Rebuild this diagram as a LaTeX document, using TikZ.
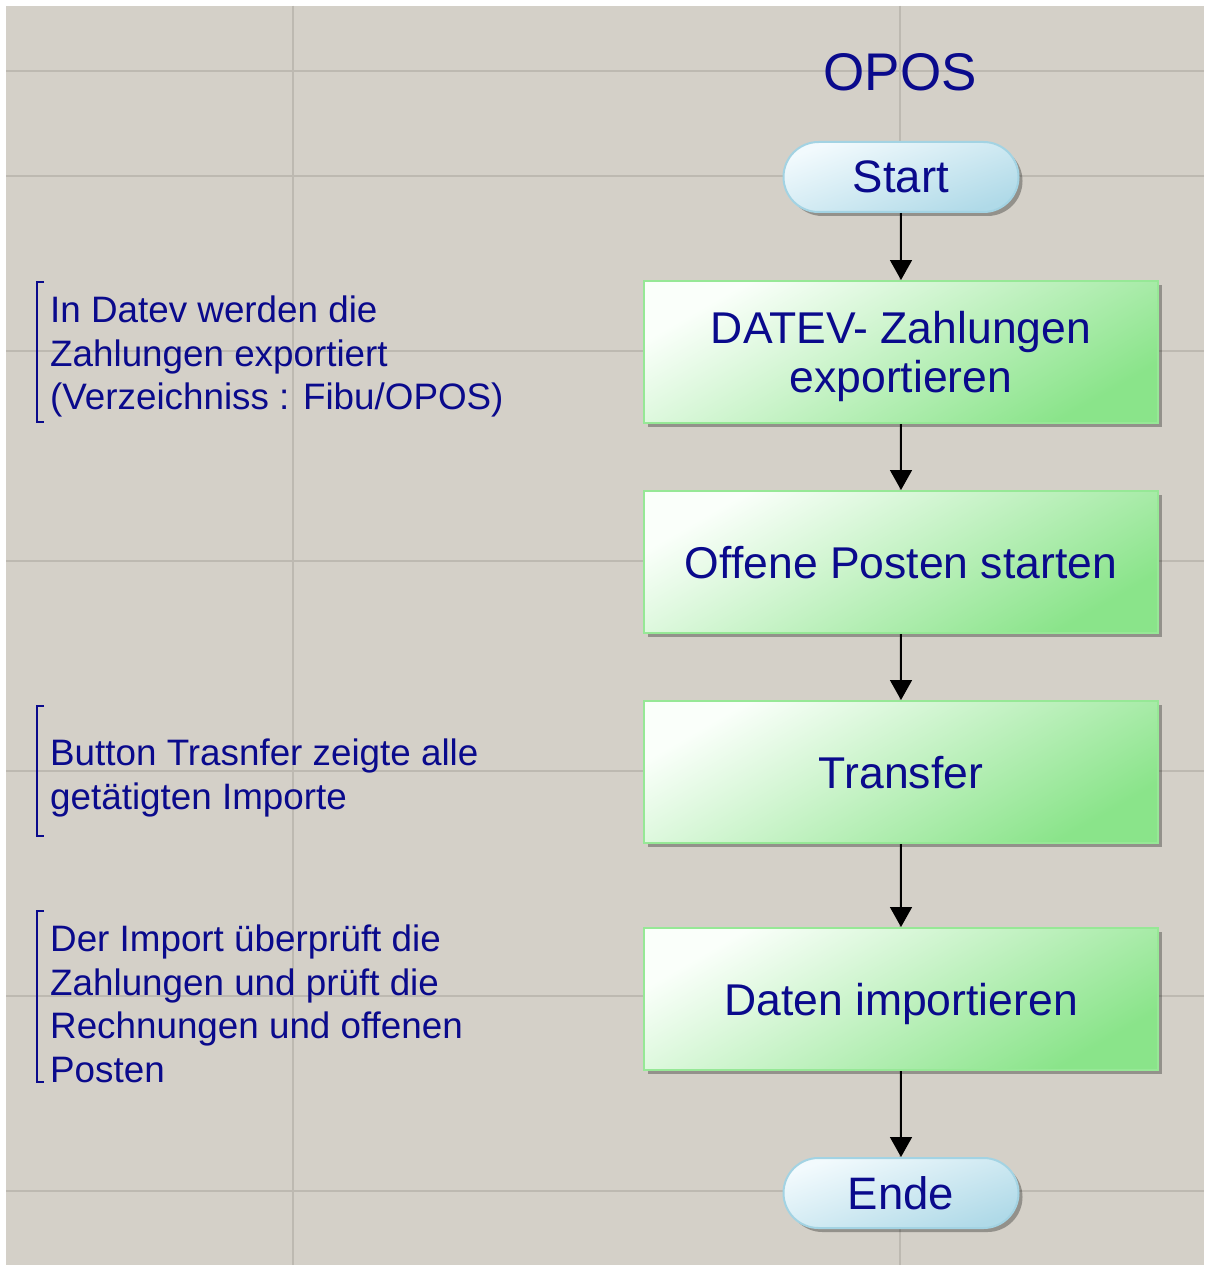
\documentclass[tikz,border=0pt]{standalone}
\usepackage{fontspec}
\setmainfont{Liberation Sans}
\usetikzlibrary{arrows.meta,shadows}
\definecolor{bg}{HTML}{D4D0C8}
\definecolor{gridc}{HTML}{BDB9B1}
\definecolor{navy}{HTML}{0A0A8C}
\definecolor{gtop}{HTML}{FAFFFA}
\definecolor{gbot}{HTML}{8AE48A}
\definecolor{gborder}{HTML}{96E896}
\definecolor{btop}{HTML}{F2FAFD}
\definecolor{bbot}{HTML}{B0DAE8}
\definecolor{bborder}{HTML}{A3D3E3}
\tikzset{
  procbox/.style={rectangle, draw=gborder, line width=2pt,
    top color=gtop, bottom color=gbot, shading angle=30,
    minimum width=514pt, minimum height=142pt, text=navy, text depth=0pt,
    font=\fontsize{44.5}{49}\selectfont, align=center,
    drop shadow={shadow xshift=4pt, shadow yshift=-4pt, fill=black, opacity=0.3}},
  termbox/.style={rectangle, rounded corners=35pt, draw=bborder, line width=2pt,
    top color=btop, bottom color=bbot, shading angle=20,
    minimum width=235pt, minimum height=70pt, text=navy,
    font=\fontsize{45.5}{52}\selectfont,
    drop shadow={shadow xshift=4pt, shadow yshift=-4pt, fill=black, opacity=0.3}},
  flowarrow/.style={-{Triangle[width=22pt,length=20pt]}, line width=1.6pt, black},
  note/.style={text=navy, font=\fontsize{36.8}{43.5}\selectfont, align=left,
    inner sep=0pt, anchor=north west},
  bracket/.style={draw=navy, line width=1.3pt},
  gridline/.style={draw=gridc, line width=2pt}
}
\begin{document}
\begin{tikzpicture}[x=1pt,y=-1pt]
\useasboundingbox (0,0) rectangle (1204,1265);
\fill[white] (0,0) rectangle (1204,1265);
\fill[bg] (6,6) rectangle (1204,1265);
% grid
\foreach \gy in {71,176,351,561,771,996,1191}
  \draw[gridline] (6,\gy) -- (1204,\gy);
\foreach \gx in {293,900}
  \draw[gridline] (\gx,6) -- (\gx,1265);
% title
\node[text=navy, font=\fontsize{53}{60}\selectfont] (title) at (900,72) {OPOS};
% flow
\node[termbox] (start) at (901,177) {Start};
\node[procbox] (b1) at (901,352) {DATEV- Zahlungen\\exportieren};
\node[procbox] (b2) at (901,562) {Offene Posten starten};
\node[procbox] (b3) at (901,772) {Transfer};
\node[procbox] (b4) at (901,999) {Daten importieren};
\node[termbox] (ende) at (901,1193) {Ende};
\draw[flowarrow] (start) -- (b1);
\draw[flowarrow] (b1) -- (b2);
\draw[flowarrow] (b2) -- (b3);
\draw[flowarrow] (b3) -- (b4);
\draw[flowarrow] (b4) -- (ende);
% annotations
\node[note] (n1) at (50,296) {In Datev werden die\\Zahlungen exportiert\\(Verzeichniss : Fibu/OPOS)};
\node[note] (n2) at (50,739) {Button Trasnfer zeigte alle\\getätigten Importe};
\node[note] (n3) at (50,925) {Der Import überprüft die\\Zahlungen und prüft die\\Rechnungen und offenen\\Posten};
\draw[bracket] (44,282) -- (37,282) -- (37,422) -- (44,422);
\draw[bracket] (44,706) -- (37,706) -- (37,836) -- (44,836);
\draw[bracket] (44,911) -- (37,911) -- (37,1082) -- (44,1082);
\end{tikzpicture}
\end{document}
